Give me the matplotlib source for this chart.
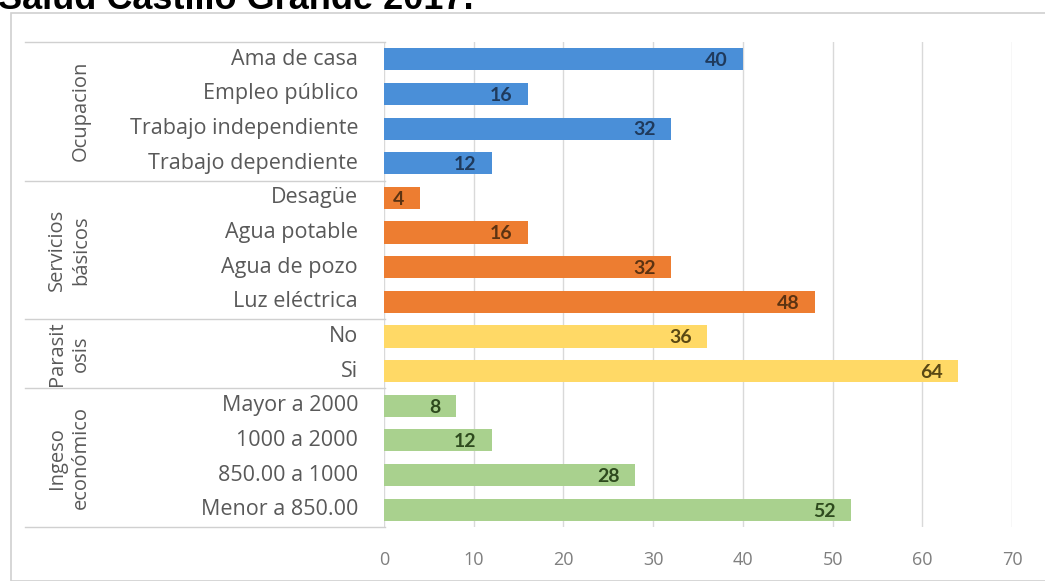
import matplotlib
matplotlib.use('Agg')
import matplotlib.pyplot as plt
import matplotlib.transforms as mtransforms
from matplotlib.patches import Rectangle
from matplotlib.lines import Line2D

plt.rcParams['font.family'] = ['Open Sans', 'DejaVu Sans']

# ── Data ────────────────────────────────────────────────────
categorias = ['Ama de casa', 'Empleo público', 'Trabajo independiente', 'Trabajo dependiente',
              'Desagüe ', 'Agua potable  ', 'Agua de pozo', 'Luz eléctrica',
              'No', 'Si',
              'Mayor a 2000', '1000 a 2000', '850.00 a 1000', 'Menor a 850.00']
valores = [40, 16, 32, 12,
           4, 16, 32, 48,
           36, 64,
           8, 12, 28, 52]
grupos = ['Ocupacion', 'Servicios\nbásicos', 'Parasit\nosis', 'Ingeso\neconómico']
tam_grupo = [4, 4, 2, 4]
colores_grupo = ['#4A8FD8', '#ED7D31', '#FFD966', '#A9D18E']
colores_texto = ['#1F3A5C', '#5C3312', '#5A4814', '#2E4A1E']
ticks_x = [0, 10, 20, 30, 40, 50, 60, 70]

W, H = 1045, 581
fig = plt.figure(figsize=(W / 100, H / 100), dpi=100)

# chart frame (behind everything)
fig.add_artist(Rectangle((11 / W, 0), 1.0, (H - 13) / H, transform=fig.transFigure,
                         facecolor='white', edgecolor='#D0D0D0', linewidth=1.2, zorder=-5))

ax = fig.add_axes([384 / W, (H - 527) / H, (1012 - 384) / W, (527 - 42) / H])
ax.set_facecolor('none')

colores, colores_lbl = [], []
for g, n in enumerate(tam_grupo):
    colores += [colores_grupo[g]] * n
    colores_lbl += [colores_texto[g]] * n

ypos = list(range(len(categorias)))
bars = ax.barh(ypos, valores, height=0.64, color=colores, zorder=3)

for b, v, c in zip(bars, valores, colores_lbl):
    ax.annotate(str(v), xy=(v, b.get_y() + b.get_height() / 2), xytext=(-11, -1),
                textcoords='offset points', ha='right', va='center',
                fontsize=14, fontweight='bold', color=c, family='Lato', zorder=4)

ax.set_xlim(0, 70)
ax.set_ylim(len(categorias) - 0.5, -0.5)
ax.set_xticks(ticks_x)
ax.set_yticks([])
ax.grid(axis='x', color='#D9D9D9', linewidth=1, zorder=0)
for s in ax.spines.values():
    s.set_visible(False)
ax.tick_params(axis='x', length=0, pad=17, labelsize=13, labelcolor='#7F7F7F')

# category labels and group labels to the left of the bars
trans = mtransforms.blended_transform_factory(fig.transFigure, ax.transData)
for y, cat in zip(ypos, categorias):
    ax.text(358 / W, y, cat.rstrip(), transform=trans, ha='right', va='center',
            fontsize=15.5, color='#595959', clip_on=False)

inicio = 0
bordes = [-0.5]
for g, n in enumerate(tam_grupo):
    centro = inicio + (n - 1) / 2
    ax.text(91 / W, centro, grupos[g], transform=trans, rotation=90, ha='right',
            va='center', fontsize=14.5, color='#595959', linespacing=1.25,
            multialignment='center', clip_on=False)
    inicio += n
    bordes.append(inicio - 0.5)

for yb in bordes:
    ax.add_line(Line2D([25 / W, 385 / W], [yb, yb], transform=trans, color='#D0D0D0',
                       linewidth=1, clip_on=False))

# title, partly cut by the top edge
fig.text(-2 / W, (H - 9) / H, 'Salud Castillo Grande 2017.', ha='left', va='baseline',
         fontsize=26, fontweight='bold', family='Liberation Sans', color='black')

fig.savefig('out.png', dpi=100)
